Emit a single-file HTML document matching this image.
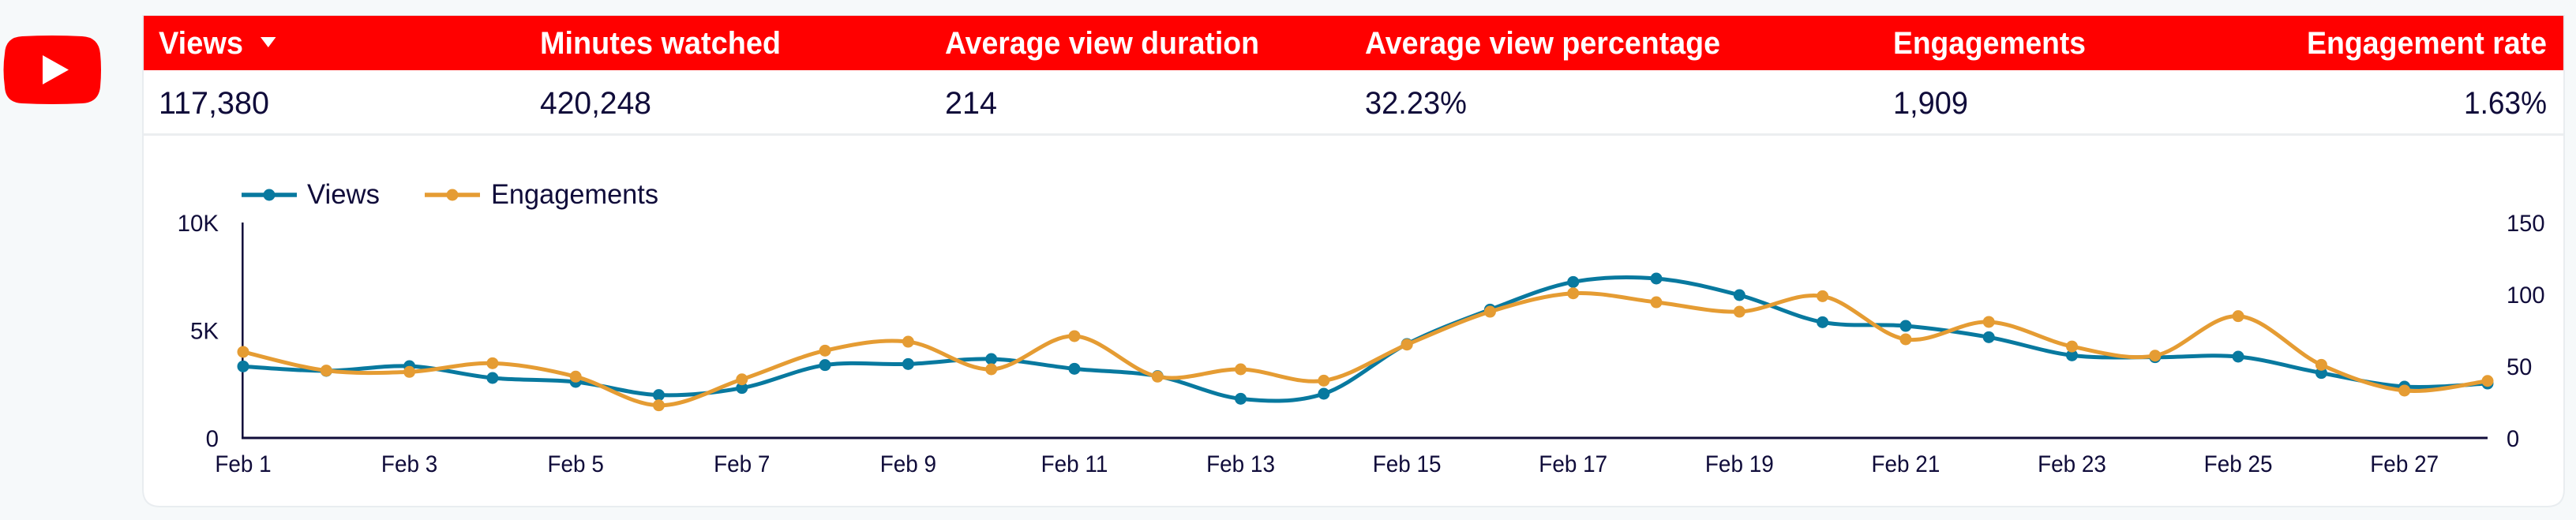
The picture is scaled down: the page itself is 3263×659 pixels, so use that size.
<!DOCTYPE html>
<html lang="en">
<head>
<meta charset="utf-8">
<title>YouTube performance chart</title>
<style>
  html, body { margin: 0; padding: 0; background: #f6f9fa; }
  body { width: 3263px; height: 659px; overflow: hidden; }
  svg { display: block; font-family: "Liberation Sans", sans-serif; }
  .hd { font-size: 40px; font-weight: 700; fill: #ffffff; }
  .val { font-size: 40px; fill: #100c3a; }
  .tick { font-size: 30px; fill: #100c3a; }
  .leg { font-size: 35px; fill: #100c3a; }
</style>
</head>
<body>
<svg id="root" xmlns="http://www.w3.org/2000/svg" width="3263" height="659" viewBox="0 0 3263 659">
  <rect x="0" y="0" width="3263" height="659" fill="#f6f9fa"/>

  <g>
    <path d="M28 46 Q66 44 104 46 Q125 47 127 68 Q129 88 127 110 Q125 130 104 131 Q66 133 28 131 Q7 130 6 110 Q3 88 6 68 Q7 47 28 46 Z" fill="#ff0000"/>
    <path d="M54 70 L87 88.5 L54 107 Z" fill="#ffffff"/>
  </g>

  <path d="M181 20 H3248 V620 Q3248 642 3226 642 H203 Q181 642 181 620 Z" fill="#ffffff" stroke="#e9edf0" stroke-width="2"/>

  <rect x="182" y="20" width="3065" height="69" fill="#ff0000"/>
  <rect x="182" y="169" width="3065" height="3" fill="#eceef0"/>

  <text class="hd" x="201" y="68" textLength="107" lengthAdjust="spacingAndGlyphs">Views</text>
  <path d="M330 47 H349.5 L339.8 60 Z" fill="#ffffff"/>
  <text class="hd" x="684" y="68" textLength="305" lengthAdjust="spacingAndGlyphs">Minutes watched</text>
  <text class="hd" x="1197" y="68" textLength="398" lengthAdjust="spacingAndGlyphs">Average view duration</text>
  <text class="hd" x="1729" y="68" textLength="450" lengthAdjust="spacingAndGlyphs">Average view percentage</text>
  <text class="hd" x="2398" y="68" textLength="244" lengthAdjust="spacingAndGlyphs">Engagements</text>
  <text class="hd" x="2922" y="68" textLength="304" lengthAdjust="spacingAndGlyphs">Engagement rate</text>

  <text class="val" x="201" y="144" textLength="140" lengthAdjust="spacingAndGlyphs">117,380</text>
  <text class="val" x="684" y="144" textLength="141" lengthAdjust="spacingAndGlyphs">420,248</text>
  <text class="val" x="1197" y="144" textLength="66" lengthAdjust="spacingAndGlyphs">214</text>
  <text class="val" x="1729" y="144" textLength="129" lengthAdjust="spacingAndGlyphs">32.23%</text>
  <text class="val" x="2398" y="144" textLength="95" lengthAdjust="spacingAndGlyphs">1,909</text>
  <text class="val" x="3121" y="144" textLength="105" lengthAdjust="spacingAndGlyphs">1.63%</text>

  <g>
    <g>
      <line x1="306" y1="247" x2="376" y2="247" stroke="#08799f" stroke-width="5.5"/>
      <circle cx="341" cy="247" r="7.5" fill="#08799f"/>
      <text class="leg" x="389" y="258" textLength="92" lengthAdjust="spacingAndGlyphs">Views</text>
    </g>
    <g>
      <line x1="538" y1="247" x2="608" y2="247" stroke="#e59c33" stroke-width="5.5"/>
      <circle cx="573" cy="247" r="7.5" fill="#e59c33"/>
      <text class="leg" x="622" y="258" textLength="212" lengthAdjust="spacingAndGlyphs">Engagements</text>
    </g>
  </g>

  <g id="chart"></g>
</svg>

<script>
var categories = ["Feb 1","Feb 2","Feb 3","Feb 4","Feb 5","Feb 6","Feb 7","Feb 8","Feb 9","Feb 10","Feb 11","Feb 12","Feb 13","Feb 14","Feb 15","Feb 16","Feb 17","Feb 18","Feb 19","Feb 20","Feb 21","Feb 22","Feb 23","Feb 24","Feb 25","Feb 26","Feb 27","Feb 28"];
var viewsValues = [3321,3114,3333,2784,2601,1990,2320,3382,3431,3663,3211,2869,1819,2051,4359,5958,7241,7399,6630,5372,5201,4676,3834,3748,3773,3016,2381,2527];
var engagementValues = [59.9,46.9,46,52,42.7,22.7,40.8,60.8,67,47.8,70.9,42.7,47.8,39.9,65,87.9,100.7,94.5,87.9,98.7,68.7,80.8,63.7,57.3,84.8,50.9,33,39.7];
var leftTickValues = [0,5000,10000];
var leftTickLabels = ["0","5K","10K"];
var rightTickValues = [0,50,100,150];
var rightTickLabels = ["0","50","100","150"];

var plot = { left: 308, right: 3151, top: 282, bottom: 555 };
var leftMax = 10000, rightMax = 150;
var NS = "http://www.w3.org/2000/svg";
var chart = document.getElementById("chart");

function xAxis(i) { return plot.left + i * (plot.right - plot.left) / (categories.length - 1); }
function yLeft(v) { return plot.bottom - v / leftMax * (plot.bottom - plot.top); }
function yRight(v) { return plot.bottom - v / rightMax * (plot.bottom - plot.top); }
function make(tag, attrs) {
  var el = document.createElementNS(NS, tag);
  for (var k in attrs) { el.setAttribute(k, attrs[k]); }
  chart.appendChild(el);
  return el;
}
function condense(t, factor) {
  t.setAttribute("textLength", t.getComputedTextLength() * factor);
  t.setAttribute("lengthAdjust", "spacingAndGlyphs");
}
function smoothPath(values, yFn) {
  var pts = values.map(function (v, i) { return [xAxis(i), yFn(v)]; });
  var d = "M" + pts[0][0] + " " + pts[0][1];
  for (var i = 0; i < pts.length - 1; i++) {
    var p0 = pts[Math.max(i - 1, 0)], p1 = pts[i], p2 = pts[i + 1], p3 = pts[Math.min(i + 2, pts.length - 1)];
    d += " C" + (p1[0] + (p2[0] - p0[0]) / 6) + " " + (p1[1] + (p2[1] - p0[1]) / 6) + " " +
         (p2[0] - (p3[0] - p1[0]) / 6) + " " + (p2[1] - (p3[1] - p1[1]) / 6) + " " + p2[0] + " " + p2[1];
  }
  return d;
}

var yAxisLine = make("line", { x1: plot.left - 0.7, y1: plot.top, x2: plot.left - 0.7, y2: plot.bottom, stroke: "#100c3a", "stroke-width": 2.5 });


var xAxisLine = make("line", { x1: plot.left - 2, y1: plot.bottom, x2: plot.right, y2: plot.bottom, stroke: "#100c3a", "stroke-width": 3 });



leftTickValues.forEach(function (v, i) {
  var t = make("text", { x: 277, y: yLeft(v) + 11, "text-anchor": "end", "class": "tick" });
  t.textContent = leftTickLabels[i];
  
  
  condense(t, 0.98);
});
rightTickValues.forEach(function (v, i) {
  var t = make("text", { x: 3175, y: yRight(v) + 11, "text-anchor": "start", "class": "tick" });
  t.textContent = rightTickLabels[i];
  
  
  condense(t, 0.97);
});
categories.forEach(function (c, i) {
  if (i % 2 !== 0) { return; }
  var t = make("text", { x: xAxis(i), y: 598, "text-anchor": "middle", "class": "tick" });
  t.textContent = c;
  
  
  condense(t, 0.93);
});

var viewsLine = make("path", { d: smoothPath(viewsValues, yLeft), fill: "none", stroke: "#08799f", "stroke-width": 5 });


viewsValues.forEach(function (v, i) {
  var m = make("circle", { cx: xAxis(i), cy: yLeft(v), r: 7.5, fill: "#08799f" });
  
  
});

var engagementLine = make("path", { d: smoothPath(engagementValues, yRight), fill: "none", stroke: "#e59c33", "stroke-width": 5 });


engagementValues.forEach(function (v, i) {
  var m = make("circle", { cx: xAxis(i), cy: yRight(v), r: 7.5, fill: "#e59c33" });
  
  
});
</script>
</body>
</html>
